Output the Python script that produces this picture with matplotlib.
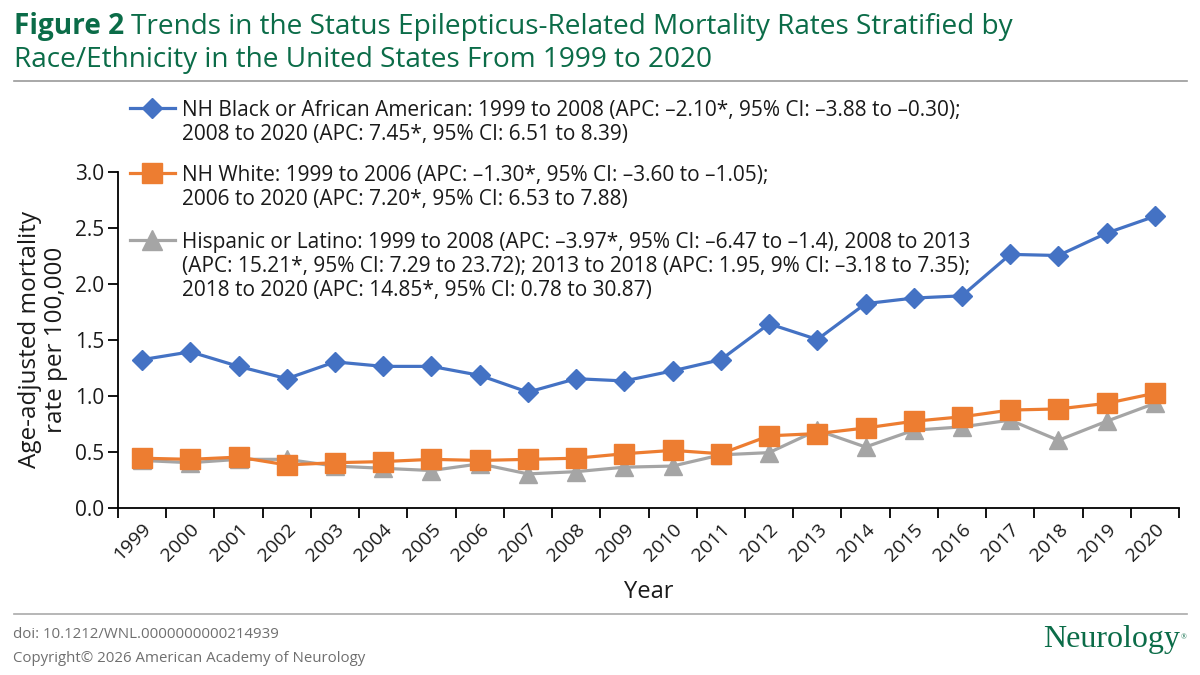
import matplotlib
matplotlib.use("Agg")
import matplotlib.pyplot as plt
from matplotlib.lines import Line2D

plt.rcParams['font.family'] = ['Open Sans', 'DejaVu Sans']

years = [str(y) for y in range(1999, 2021)]
black = [1.32, 1.39, 1.26, 1.15, 1.30, 1.26, 1.26, 1.18, 1.03, 1.15, 1.13, 1.22,
         1.32, 1.64, 1.50, 1.82, 1.87, 1.89, 2.26, 2.25, 2.45, 2.60]
white = [0.44, 0.43, 0.45, 0.38, 0.40, 0.41, 0.43, 0.42, 0.43, 0.44, 0.48, 0.51,
         0.48, 0.64, 0.66, 0.71, 0.77, 0.81, 0.87, 0.88, 0.93, 1.02]
hispanic = [0.42, 0.40, 0.43, 0.43, 0.37, 0.35, 0.33, 0.39, 0.30, 0.32, 0.36, 0.37,
            0.47, 0.49, 0.69, 0.54, 0.69, 0.72, 0.78, 0.60, 0.77, 0.93]

labels = [
    ["NH Black or African American: 1999 to 2008 (APC: \u20132.10*, 95% CI: \u20133.88 to \u20130.30);",
     "2008 to 2020 (APC: 7.45*, 95% CI: 6.51 to 8.39)"],
    ["NH White: 1999 to 2006 (APC: \u20131.30*, 95% CI: \u20133.60 to \u20131.05);",
     "2006 to 2020 (APC: 7.20*, 95% CI: 6.53 to 7.88)"],
    ["Hispanic or Latino: 1999 to 2008 (APC: \u20133.97*, 95% CI: \u20136.47 to \u20131.4), 2008 to 2013",
     "(APC: 15.21*, 95% CI: 7.29 to 23.72); 2013 to 2018 (APC: 1.95, 9% CI: \u20133.18 to 7.35);",
     "2018 to 2020 (APC: 14.85*, 95% CI: 0.78 to 30.87)"],
]
yticks = [0.0, 0.5, 1.0, 1.5, 2.0, 2.5, 3.0]

BLUE = '#4472c4'
ORANGE = '#ed7d31'
GRAY = '#a5a5a5'
GREEN = '#0b6c48'
TXT = '#1a1a1a'

W, H = 1200, 675
fig = plt.figure(figsize=(12, 6.75), dpi=100)

def fx(px):
    return px / W

def fy(py):
    return 1 - py / H

ax = fig.add_axes([fx(118), fy(507.5), fx(1179 - 118), (507.5 - 171.5) / H])
x = list(range(len(years)))
series = [(black, BLUE, 'D', 10.5), (white, ORANGE, 's', 14.5), (hispanic, GRAY, '^', 13.5)]
for vals, col, mk, ms in [series[2], series[1], series[0]]:
    ax.plot(x, vals, color=col, lw=2.3, marker=mk, ms=ms, mec=col, mfc=col, zorder=3)

ax.set_xlim(-0.5, len(years) - 0.5)
ax.set_ylim(0, 3.0)
ax.set_yticks(yticks)
ax.set_yticklabels([f"{v:.1f}" for v in yticks], fontsize=15, color=TXT)
ax.set_xticks([i - 0.5 for i in range(len(years) + 1)])
ax.set_xticklabels([])
ax.set_xticks(x, minor=True)
ax.set_xticklabels(years, minor=True, rotation=45, ha='right', va='top',
                   rotation_mode='anchor', fontsize=14, color=TXT)
ax.tick_params(axis='x', which='minor', length=0, pad=9)
ax.tick_params(axis='x', which='major', length=7, width=1.3, direction='out')
ax.tick_params(axis='y', length=7, width=1.3, direction='out', pad=3)
for s in ['top', 'right']:
    ax.spines[s].set_visible(False)
for s in ['left', 'bottom']:
    ax.spines[s].set_linewidth(1.3)
ax.set_ylabel("Age-adjusted mortality\nrate per 100,000", fontsize=17.5, labelpad=5,
              linespacing=1.1, color=TXT)
ax.set_xlabel("Year", fontsize=17, labelpad=11, color=TXT)

# legend (manual, figure coords)
handle_y = [108, 173, 240]
baselines = [[115.7, 140.0], [180.7, 204.5], [248.3, 272.0, 295.8]]
legend_ms = {'D': 10.5, 's': 14.5, '^': 14.5}
for (vals, col, mk, ms), lines, hy, bls in zip(series, labels, handle_y, baselines):
    fig.add_artist(Line2D([fx(130), fx(175)], [fy(hy), fy(hy)], color=col, lw=2.3,
                          transform=fig.transFigure))
    fig.add_artist(Line2D([fx(152)], [fy(hy)], color=col, marker=mk, ms=legend_ms[mk],
                          mec=col, mfc=col, transform=fig.transFigure))
    for line, bl in zip(lines, bls):
        fig.text(fx(182), fy(bl), line, fontsize=15, va='baseline', ha='left', color=TXT)

# title
TFS = 20.2
t1 = fig.text(fx(14), fy(34.3), "Figure 2", fontsize=TFS, fontweight='bold',
              color=GREEN, va='baseline', ha='left')
fig.canvas.draw()
bb = t1.get_window_extent(fig.canvas.get_renderer())
fig.text(bb.x1 / W + fx(7), fy(34.3),
         "Trends in the Status Epilepticus-Related Mortality Rates Stratified by",
         fontsize=TFS, color=GREEN, va='baseline', ha='left')
fig.text(fx(14), fy(66.7), "Race/Ethnicity in the United States From 1999 to 2020",
         fontsize=TFS, color=GREEN, va='baseline', ha='left')
fig.add_artist(Line2D([fx(14), fx(1187)], [fy(80.5), fy(80.5)], color='#9a9a9a', lw=1.2,
                      transform=fig.transFigure))

# footer
fig.add_artist(Line2D([fx(14), fx(1187)], [fy(614), fy(614)], color='#aaaaaa', lw=1.2,
                      transform=fig.transFigure))
fig.text(fx(13), fy(638.3), "doi: 10.1212/WNL.0000000000214939", fontsize=10.8,
         color='#6f6f6f', va='baseline', ha='left')
fig.text(fx(13), fy(661.7), "Copyright\u00a9 2026 American Academy of Neurology", fontsize=10.8,
         color='#6f6f6f', va='baseline', ha='left')
fig.text(fx(1180), fy(647.5), "Neurology", fontsize=23, color=GREEN, va='baseline',
         ha='right', family=['Liberation Serif', 'DejaVu Serif'])
fig.text(fx(1181), fy(637), "\u00ae", fontsize=5.5, color=GREEN, va='center', ha='left',
         family=['Liberation Serif', 'DejaVu Serif'])

fig.savefig("out.png", dpi=100)
